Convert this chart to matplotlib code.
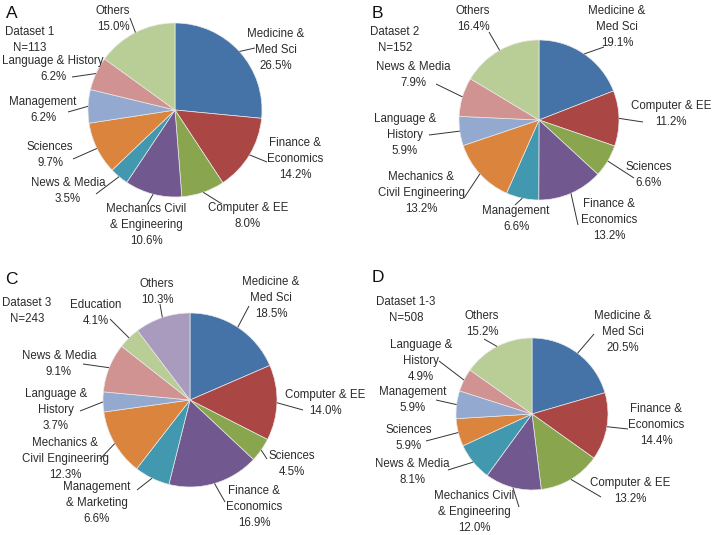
import matplotlib
matplotlib.use("Agg")
import matplotlib.pyplot as plt
import numpy as np

plt.rcParams['font.family'] = ['Liberation Sans', 'DejaVu Sans']

W, H = 712, 535
COLORS = ['#4572A7', '#AA4643', '#89A54E', '#71588F', '#4198AF',
          '#DB843D', '#93A9CF', '#D19392', '#B9CD96', '#A99BBD']
TXT = '#2b2b2b'

# ---------------- data ----------------
labels_a = ['Medicine &\nMed Sci', 'Finance &\nEconomics', 'Computer & EE',
            'Mechanics Civil\n& Engineering', 'News & Media', 'Sciences',
            'Management', 'Language & History', 'Others']
values_a = [26.5, 14.2, 8.0, 10.6, 3.5, 9.7, 6.2, 6.2, 15.0]

labels_b = ['Medicine &\nMed Sci', 'Computer & EE', 'Sciences',
            'Finance &\nEconomics', 'Management',
            'Mechanics &\nCivil Engineering', 'Language &\nHistory',
            'News & Media', 'Others']
values_b = [19.1, 11.2, 6.6, 13.2, 6.6, 13.2, 5.9, 7.9, 16.4]

labels_c = ['Medicine &\nMed Sci', 'Computer & EE', 'Sciences',
            'Finance &\nEconomics', 'Management\n& Marketing',
            'Mechanics &\nCivil Engineering', 'Language &\nHistory',
            'News & Media', 'Education', 'Others']
values_c = [18.5, 14.0, 4.5, 16.9, 6.6, 12.3, 3.7, 9.1, 4.1, 10.3]

labels_d = ['Medicine &\nMed Sci', 'Finance &\nEconomics', 'Computer & EE',
            'Mechanics Civil\n& Engineering', 'News & Media', 'Sciences',
            'Management', 'Language &\nHistory', 'Others']
values_d = [20.5, 14.4, 13.2, 12.0, 8.1, 5.9, 5.9, 4.9, 15.2]

panel_letters = ['A', 'B', 'C', 'D']
dataset_names = ['Dataset 1', 'Dataset 2', 'Dataset 3', 'Dataset 1-3']
dataset_n = [113, 152, 243, 508]

# ---------------- layout (pixel coords, y from top) ----------------
centers = [(175, 110), (539, 120), (190, 400), (532, 414)]
radii = [87, 80, 87, 76]
letter_pos = [(12, 14), (377, 14), (11, 279), (378, 278)]
info_pos = [(30, 40), (395, 40), (27, 311), (406, 310)]

# label text centers and leader end points per panel
lab_pos_a = [(276, 50), (295, 159), (248, 216), (146, 225), (68, 191),
             (50, 155), (43, 110), (53, 69), (113, 19)]
lead_end_a = [(255, 48), (267, 162), (222, 204), (147, 205), (96, 194),
              (73, 159), (68, 112), (72, 77), (130, 18)]

lab_pos_b = [(617, 27), (671, 114), (649, 175), (609, 220), (516, 219),
             (421, 193), (405, 135), (413, 75), (473, 19)]
lead_end_b = [(604, 47), (643, 122), (634, 178), (578, 225), (515, 205),
              (464, 198), (429, 135), (436, 84), (489, 32)]

lab_pos_c = [(271, 298), (325, 403), (292, 464), (254, 507), (97, 503),
             (65, 459), (56, 410), (59, 364), (96, 313), (157, 292)]
lead_end_c = [(249, 306), (303, 410), (267, 459), (225, 502), (137, 490),
              (100, 459), (80, 411), (83, 364), (110, 319), (160, 304)]

lab_pos_d = [(623, 332), (656, 425), (630, 491), (474, 512), (412, 472),
             (409, 438), (413, 400), (421, 361), (482, 324)]
lead_end_d = [(594, 334), (628, 429), (601, 497), (519, 507), (448, 470),
              (426, 441), (436, 400), (439, 361), (484, 339)]

all_labels = [labels_a, labels_b, labels_c, labels_d]
all_values = [values_a, values_b, values_c, values_d]
all_lab_pos = [lab_pos_a, lab_pos_b, lab_pos_c, lab_pos_d]
all_lead_end = [lead_end_a, lead_end_b, lead_end_c, lead_end_d]

FS = 8.3
LS = 1.4

fig = plt.figure(figsize=(W / 100, H / 100), dpi=100)
ax = fig.add_axes([0, 0, 1, 1])


def P(x, y):
    return (x, H - y)


for k in range(4):
    vals = all_values[k]
    cx, cy = centers[k]
    r = radii[k]
    wedges, _ = ax.pie(vals, colors=COLORS[:len(vals)], startangle=90,
                       counterclock=False, center=P(cx, cy), radius=r,
                       wedgeprops=dict(edgecolor='#e8e8e8', linewidth=0.5))
    for i, w in enumerate(wedges):
        mid = np.deg2rad((w.theta1 + w.theta2) / 2)
        x0 = w.center[0] + w.r * np.cos(mid)
        y0 = w.center[1] + w.r * np.sin(mid)
        ex, ey = P(*all_lead_end[k][i])
        ax.plot([x0, ex], [y0, ey], color='#333333', lw=0.7,
                solid_capstyle='butt', zorder=3)
        tx, ty = P(*all_lab_pos[k][i])
        ax.text(tx, ty, f"{all_labels[k][i]}\n{vals[i]:.1f}%",
                ha='center', va='center', fontsize=FS, color=TXT,
                linespacing=LS, zorder=4)
    lx, ly = P(*letter_pos[k])
    ax.text(lx, ly, panel_letters[k], ha='center', va='center',
            fontsize=12.5, color='#111111')
    ix, iy = P(*info_pos[k])
    ax.text(ix, iy, f"{dataset_names[k]}\nN={dataset_n[k]}", ha='center',
            va='center', fontsize=FS, color=TXT, linespacing=LS)

ax.set_xlim(0, W)
ax.set_ylim(0, H)
ax.set_aspect('equal')
ax.axis('off')
fig.savefig('out.png', dpi=100)
